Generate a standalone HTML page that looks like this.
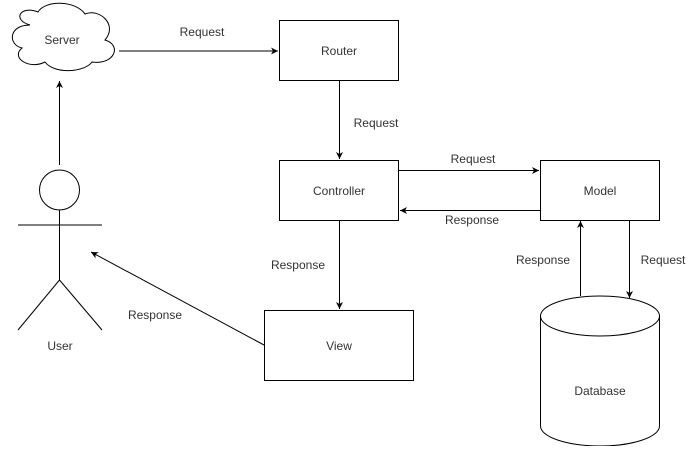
<!DOCTYPE html>
<html><head><style>body{margin:0;background:#fff}</style></head><body>
<svg width="700" height="446" xmlns="http://www.w3.org/2000/svg" font-family="Liberation Sans, sans-serif" font-size="12">
<defs><marker id="a" markerWidth="8" markerHeight="8" refX="7" refY="4" orient="auto" markerUnits="userSpaceOnUse"><path d="M0,0.5 L7,4 L0,7.5 L2,4z" fill="#000"/></marker></defs>
<g fill="#fff" stroke="#000" stroke-width="1">
<path d="M30,25 C8,25 8,45 22,48 C10,58 30,70 45,62 C55,75 85,72 92,62 C115,65 122,45 105,40 C118,25 100,8 85,14 C75,0 45,0 38,12 C20,5 12,20 30,25z"/>
<rect x="279.5" y="20.5" width="119" height="60"/>
<rect x="279.5" y="160.5" width="119" height="60"/>
<rect x="540.5" y="160.5" width="119" height="60"/>
<rect x="264.5" y="310.5" width="149" height="70"/>
<path d="M540.5,316 A59.5,20 0 0 1 659.5,316 L659.5,426 A59.5,20 0 0 1 540.5,426 Z"/>
<path d="M540.5,316 A59.5,20 0 0 0 659.5,316" fill="none"/>
<circle cx="59.5" cy="190" r="20"/>
<path d="M59.5,210 V280 M18,225 H102 M59.5,280 L18,330 M59.5,280 L102,330" fill="none"/>
</g>
<g stroke="#000" fill="none" marker-end="url(#a)">
<line x1="119" y1="51" x2="278" y2="51"/>
<line x1="59.5" y1="165" x2="59.5" y2="81"/>
<line x1="339.5" y1="81" x2="339.5" y2="159"/>
<line x1="399" y1="170.5" x2="539" y2="170.5"/>
<line x1="540" y1="210.5" x2="400" y2="210.5"/>
<line x1="339.5" y1="221" x2="339.5" y2="309"/>
<line x1="264" y1="345" x2="91" y2="252"/>
<line x1="629.5" y1="221" x2="629.5" y2="298"/>
<line x1="580.5" y1="296" x2="580.5" y2="221"/>
</g>
<g fill="#333" text-anchor="middle">
<text x="62" y="44">Server</text>
<text x="339" y="55">Router</text>
<text x="339" y="195">Controller</text>
<text x="600" y="195">Model</text>
<text x="339" y="350">View</text>
<text x="600" y="395">Database</text>
<text x="60" y="350">User</text>
<text x="202" y="36">Request</text>
<text x="376" y="127">Request</text>
<text x="473" y="163">Request</text>
<text x="472" y="224">Response</text>
<text x="298" y="269">Response</text>
<text x="155" y="319">Response</text>
<text x="543" y="264">Response</text>
<text x="663" y="264">Request</text>
</g>
</svg>
</body></html>
